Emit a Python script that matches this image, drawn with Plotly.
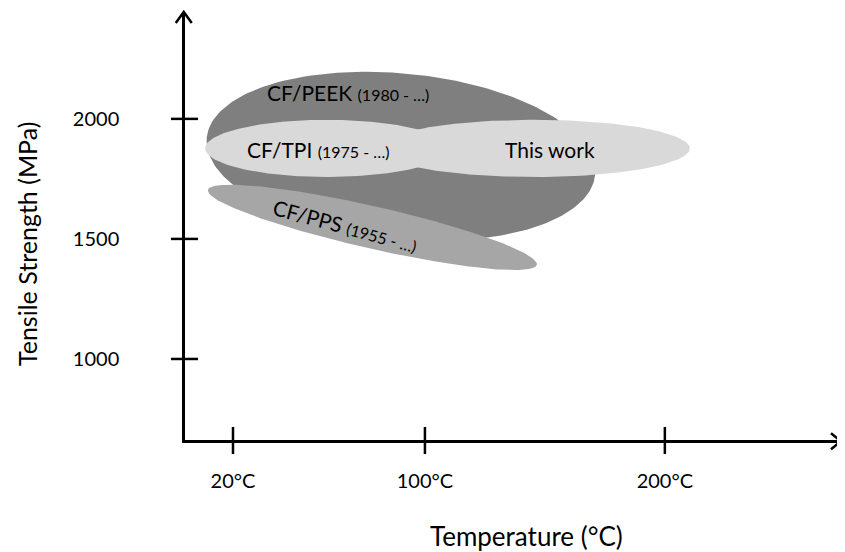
import numpy as np
import plotly.graph_objects as go

# ---- data ----
x_tick_vals = [20, 100, 200]
x_tick_text = ["20°C", "100°C", "200°C"]
y_tick_vals = [1000, 1500, 2000]
y_tick_text = ["1000", "1500", "2000"]

materials = ["CF/PEEK", "CF/TPI", "This work", "CF/PPS"]
years = ["(1980 - …)", "(1975 - …)", "", "(1955 - …)"]
center_temp = [90.0, 59.2, 145.4, 78.1]        # °C
center_strength = [1844, 1877, 1877, 1548]     # MPa
half_len_temp = [81.3, 50.8, 65.0, 70.3]       # major semi-axis, in °C
half_thick_mpa = [345, 119, 119, 88]           # minor semi-axis, in MPa
tilt_deg = [5.5, 0.0, 0.0, 12.8]
colors = ["#7f7f7f", "#d9d9d9", "#d9d9d9", "#a6a6a6"]

label_temp = [67.9, 55.8, 152.0, 66.7]
label_strength = [2108, 1871, 1871, 1554]
label_angle = [0, 0, 0, 15]

X_RANGE = [0, 273]
Y_RANGE = [662.5, 2441]

OFF = 8  # page body margin
W, H = 845 - OFF, 552 - OFF
PW, PH = 655, 427
ML, MT = 185 - OFF, 13 - OFF
MR = W - ML - PW
MB = H - MT - PH
px_per_c = PW / (X_RANGE[1] - X_RANGE[0])
px_per_mpa = PH / (Y_RANGE[1] - Y_RANGE[0])

FONT = "Lato"


def px_to_paper(px, py):
    """absolute page pixel -> paper coordinates"""
    return (px - OFF - ML) / PW, (OFF + MT + PH - py) / PH


fig = go.Figure()

t = np.linspace(0, 2 * np.pi, 240)
for i, name in enumerate(materials):
    a = half_len_temp[i] * px_per_c
    b = half_thick_mpa[i] * px_per_mpa
    th = np.deg2rad(tilt_deg[i])
    dx = a * np.cos(t) * np.cos(th) - b * np.sin(t) * np.sin(th)
    dy = a * np.cos(t) * np.sin(th) + b * np.sin(t) * np.cos(th)  # screen-down positive
    xs = center_temp[i] + dx / px_per_c
    ys = center_strength[i] - dy / px_per_mpa
    fig.add_trace(go.Scatter(x=xs, y=ys, mode="lines", fill="toself",
                             fillcolor=colors[i], line=dict(width=0, color=colors[i]),
                             hoverinfo="skip", showlegend=False))

for i, name in enumerate(materials):
    txt = name
    if years[i]:
        txt += " <span style='font-size:16px'>" + years[i] + "</span>"
    fig.add_annotation(x=label_temp[i], y=label_strength[i], text=txt, showarrow=False,
                       xanchor="center", yanchor="middle",
                       textangle=label_angle[i], font=dict(family=FONT, size=21, color="black"))

LW = 2.5
# crossing tick marks
for v in x_tick_vals:
    fig.add_shape(type="line", xref="x", yref="paper", x0=v, x1=v,
                  y0=-14 / PH, y1=13 / PH, line=dict(color="black", width=LW))
for v in y_tick_vals:
    fig.add_shape(type="line", xref="paper", yref="y", y0=v, y1=v,
                  x0=-14 / PW, x1=13 / PW, line=dict(color="black", width=LW))

# arrow heads (paper refs, not clipped)
ax_y = -1.25 / PH
ay_x = -1.25 / PW
fig.add_shape(type="path", xref="paper", yref="paper",
              path=f"M {1 - 9 / PW},{ax_y + 8 / PH} L {1 + 1 / PW},{ax_y} L {1 - 9 / PW},{ax_y - 8 / PH}",
              line=dict(color="black", width=LW))
fig.add_shape(type="path", xref="paper", yref="paper",
              path=f"M {ay_x - 8 / PW},{1 - 10 / PH} L {ay_x},{1 + 1 / PH} L {ay_x + 8 / PW},{1 - 10 / PH}",
              line=dict(color="black", width=LW))

fig.update_xaxes(range=X_RANGE, showgrid=False, zeroline=False, showline=True,
                 linecolor="black", linewidth=LW, ticks="", tickvals=x_tick_vals,
                 ticktext=x_tick_text, ticklabelstandoff=21,
                 tickfont=dict(family=FONT, size=20, color="black"))
fig.update_yaxes(range=Y_RANGE, showgrid=False, zeroline=False, showline=True,
                 linecolor="black", linewidth=LW, ticks="", tickvals=y_tick_vals,
                 ticktext=y_tick_text, ticklabelstandoff=59,
                 tickfont=dict(family=FONT, size=20, color="black"))

xt = px_to_paper(526, 536)
fig.add_annotation(xref="paper", yref="paper", x=xt[0], y=xt[1],
                   xanchor="center", yanchor="middle",
                   text="Temperature (°C)", showarrow=False,
                   font=dict(family=FONT, size=26, color="black"))
yt = px_to_paper(27, 244)
fig.add_annotation(xref="paper", yref="paper", x=yt[0], y=yt[1],
                   xanchor="center", yanchor="middle",
                   text="Tensile Strength (MPa)", showarrow=False, textangle=-90,
                   font=dict(family=FONT, size=25, color="black"))

fig.update_layout(width=W, height=H, margin=dict(l=ML, r=MR, t=MT, b=MB, autoexpand=False),
                  plot_bgcolor="white", paper_bgcolor="white", showlegend=False)

fig.write_html("out.html")
